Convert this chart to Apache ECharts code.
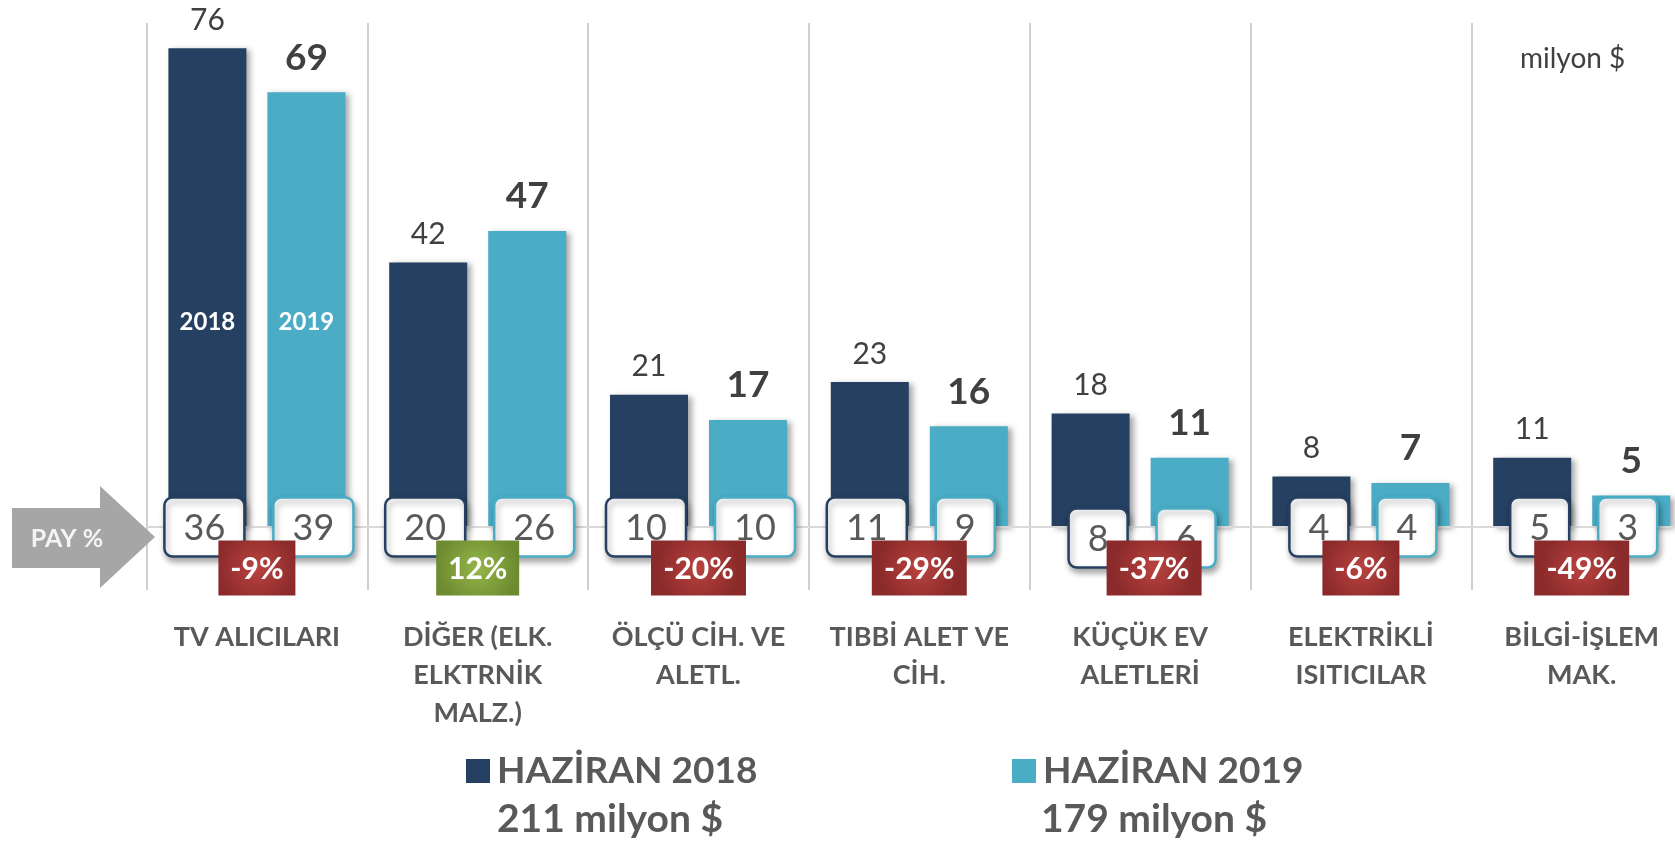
<!DOCTYPE html>
<html><head><meta charset="utf-8">
<script src="https://cdn.jsdelivr.net/npm/echarts@6/dist/echarts.min.js"></script>
<style>html,body{margin:0;padding:0;background:#fff}#c{width:1675px;height:843px}</style>
</head><body><div id="c"></div>
<script>
// ---------------- DATA ----------------
const categories = [
  'TV ALICILARI',
  'DİĞER (ELK.\nELKTRNİK\nMALZ.)',
  'ÖLÇÜ CİH. VE\nALETL.',
  'TIBBİ ALET VE\nCİH.',
  'KÜÇÜK EV\nALETLERİ',
  'ELEKTRİKLİ\nISITICILAR',
  'BİLGİ-İŞLEM\nMAK.'
];
const values2018 = [76, 42, 21, 23, 18, 8, 11];
const values2019 = [69, 47, 17, 16, 11, 7, 5];
const share2018 = [36, 20, 10, 11, 8, 4, 5];
const share2019 = [39, 26, 10, 9, 6, 4, 3];
const changePct = [-9, 12, -20, -29, -37, -6, -49];
const seriesNames = ['HAZİRAN 2018', 'HAZİRAN 2019'];
const yearTags = ['2018', '2019'];
const totals = [211, 179];
const unitText = 'milyon $';
const shareText = 'PAY %';

// ---------------- STYLE / LAYOUT ----------------
const FONT = 'Lato, "Open Sans", sans-serif';
const C2018 = '#264061', C2019 = '#4bacc6', TXT = '#595959', DARK = '#404040';
const BAR_W = 78, BAR_GAP = 21;
const BAR_OFF = (BAR_W + BAR_GAP) / 2;
const PAY_H = 59, PAY_PAD = 19, PAY_FS = 36;
const CHG_DY = 41, CHG_H = 55, CHG_PAD = 12, CHG_FS = 30;
const TAG_LEVEL = 32.5;
const payNudgeY = {4: 11};
const chgNudgeX = {4: 14};

const mctx = document.createElement('canvas').getContext('2d');
function measure(t, font) { mctx.font = font; return mctx.measureText(t).width; }

function payRender(side, stroke) {
  return function (params, api) {
    const i = api.value(0);
    const p = api.coord([i, 0]);
    const txt = String(api.value(1));
    const w = Math.round(measure(txt, 'normal ' + PAY_FS + 'px Lato')) + 2 * PAY_PAD;
    const barC = p[0] + side * BAR_OFF;
    // 2018 boxes hug the bar's right edge, 2019 boxes hug the bar's left edge
    const cx = side < 0 ? barC + 37 - w / 2 : barC - 33 + w / 2;
    const cy = p[1] + (payNudgeY[i] || 0);
    return {
      type: 'group',
      children: [
        { type: 'rect', shape: { x: cx - w / 2, y: cy - PAY_H / 2, width: w, height: PAY_H, r: 8 },
          style: { fill: '#fff', stroke: stroke, lineWidth: 2.5, shadowBlur: 6, shadowOffsetX: 2, shadowOffsetY: 4, shadowColor: 'rgba(0,0,0,0.35)' } },
        { type: 'text', x: cx, y: cy + 1,
          style: { text: txt, fill: TXT, fontFamily: FONT, fontSize: PAY_FS, align: 'center', verticalAlign: 'middle' } }
      ]
    };
  };
}

function chgRender(params, api) {
  const i = api.value(0);
  const v = api.value(1);
  const p = api.coord([i, 0]);
  const cx = p[0] + (chgNudgeX[i] || 0);
  const cy = p[1] + CHG_DY;
  const txt = v + '%';
  const w = Math.round(measure(txt, 'bold ' + CHG_FS + 'px Lato')) + 2 * CHG_PAD;
  const grad = v >= 0
    ? new echarts.graphic.RadialGradient(0.5, 0.5, 0.75, [{ offset: 0, color: '#95b64a' }, { offset: 1, color: '#6c8a2f' }])
    : new echarts.graphic.RadialGradient(0.5, 0.5, 0.75, [{ offset: 0, color: '#b9433f' }, { offset: 1, color: '#8a2a2a' }]);
  return {
    type: 'group',
    children: [
      { type: 'rect', shape: { x: cx - w / 2, y: cy - CHG_H / 2, width: w, height: CHG_H },
        style: { fill: grad } },
      { type: 'text', x: cx, y: cy + 1,
        style: { text: txt, fill: '#ffffff', fontFamily: FONT, fontWeight: 'bold', fontSize: CHG_FS, align: 'center', verticalAlign: 'middle' } }
    ]
  };
}

function tagRender(params, api) {
  const i = api.value(0);
  const p = api.coord([i, TAG_LEVEL]);
  return {
    type: 'group',
    children: yearTags.map((t, k) => ({
      type: 'text', x: p[0] + (k === 0 ? -BAR_OFF : BAR_OFF), y: p[1],
      style: { text: t, fill: '#fff', fontFamily: FONT, fontWeight: 'bold', fontSize: 24, align: 'center', verticalAlign: 'middle' }
    }))
  };
}

const chart = echarts.init(document.getElementById('c'), null, { renderer: 'canvas' });
const legendBase = {
  icon: 'rect', itemWidth: 24, itemHeight: 24, selectedMode: false, top: 746,
  itemStyle: { shadowBlur: 0, shadowOffsetX: 0, shadowOffsetY: 0 },
  textStyle: { fontFamily: FONT, fontSize: 37, fontWeight: 'bold', color: TXT, lineHeight: 40, padding: [0, 0, 0, 2] }
};
chart.setOption({
  animation: false,
  backgroundColor: '#ffffff',
  grid: { left: 146.5, top: 23, width: 1545.6, height: 567, containLabel: false, outerBoundsMode: 'none' },
  xAxis: {
    type: 'category', data: categories,
    axisLine: { show: false }, axisTick: { show: false },
    splitLine: { show: true, lineStyle: { color: '#bfbfbf', width: 1.5 } },
    axisLabel: { interval: 0, margin: 28, fontFamily: FONT, fontSize: 27, fontWeight: 'bold', color: TXT, lineHeight: 38 }
  },
  yAxis: { type: 'value', min: -10, max: 80, show: false },
  legend: [
    Object.assign({}, legendBase, { left: 461, data: [seriesNames[0]] }),
    Object.assign({}, legendBase, { left: 1007, data: [seriesNames[1]] })
  ],
  graphic: [
    { type: 'polygon', shape: { points: [[12, 508], [100, 508], [100, 486], [155, 537], [100, 588], [100, 568], [12, 568]] },
      style: { fill: '#a6a6a6' }, z: 1 },
    { type: 'text', x: 67, y: 539, z: 2,
      style: { text: shareText, fill: '#f4f4f4', fontFamily: FONT, fontWeight: 'bold', fontSize: 25, align: 'center', verticalAlign: 'middle' } },
    { type: 'text', left: 1520, top: 45,
      style: { text: unitText, fill: DARK, fontFamily: FONT, fontSize: 28 } },
    { type: 'text', left: 497, top: 800,
      style: { text: totals[0] + ' ' + unitText, fill: TXT, fontFamily: FONT, fontWeight: 'bold', fontSize: 39 } },
    { type: 'text', left: 1041, top: 800,
      style: { text: totals[1] + ' ' + unitText, fill: TXT, fontFamily: FONT, fontWeight: 'bold', fontSize: 39 } }
  ],
  series: [
    {
      name: seriesNames[0], type: 'bar', data: values2018, barWidth: BAR_W, barGap: (BAR_GAP / BAR_W * 100) + '%',
      itemStyle: { color: C2018, shadowBlur: 6, shadowOffsetX: 4, shadowOffsetY: 2, shadowColor: 'rgba(0,0,0,0.35)' },
      label: { show: true, position: 'top', distance: 13, fontFamily: FONT, fontSize: 30, color: DARK },
      markLine: { silent: true, symbol: 'none', label: { show: false }, lineStyle: { color: '#d9d9d9', width: 2, type: 'solid' }, data: [{ yAxis: 0 }] },
      z: 2
    },
    {
      name: seriesNames[1], type: 'bar', data: values2019, barWidth: BAR_W,
      itemStyle: { color: C2019, shadowBlur: 6, shadowOffsetX: 4, shadowOffsetY: 2, shadowColor: 'rgba(0,0,0,0.35)' },
      label: { show: true, position: 'top', distance: 16, fontFamily: FONT, fontSize: 37, fontWeight: 'bold', color: DARK },
      z: 2
    },
    { type: 'custom', data: share2018.map((v, i) => [i, v]), encode: { x: 0, y: 1 }, renderItem: payRender(-1, C2018), z: 5, silent: true },
    { type: 'custom', data: share2019.map((v, i) => [i, v]), encode: { x: 0, y: 1 }, renderItem: payRender(1, C2019), z: 5, silent: true },
    { type: 'custom', data: changePct.map((v, i) => [i, v]), encode: { x: 0, y: 1 }, renderItem: chgRender, z: 6, silent: true },
    { type: 'custom', data: [[0]], encode: { x: 0 }, renderItem: tagRender, z: 6, silent: true }
  ]
});
</script></body></html>
